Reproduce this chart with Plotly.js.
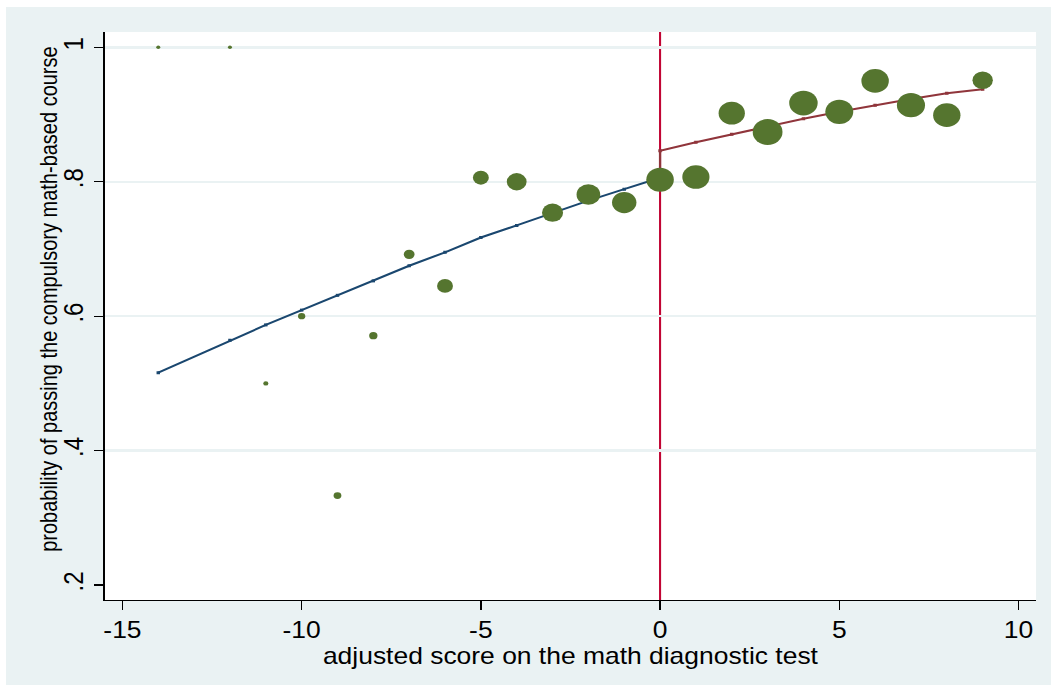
<!DOCTYPE html>
<html><head><meta charset="utf-8">
<script src="https://cdn.plot.ly/plotly-3.0.1.min.js"></script>
<style>
html,body{margin:0;padding:0;background:#fff;width:1051px;height:685px;overflow:hidden;}
#wrap{position:absolute;left:6px;top:7px;width:909px;height:678px;transform:scaleX(1.14961);transform-origin:0 0;}
#chart{width:909px;height:678px;}
</style></head><body>
<div id="wrap"><div id="chart"></div></div>
<script>
// binned data: adjusted diagnostic score, share passing, number of students
const scoreBins = [-14,-12,-11,-10,-9,-8,-7,-6,-5,-4,-3,-2,-1,0,1,2,3,4,5,6,7,8,9];
const passShare = [1,1,0.5,0.6,0.333,0.571,0.692,0.645,0.806,0.8,0.754,0.781,0.769,0.803,0.807,0.902,0.874,0.917,0.904,0.95,0.914,0.899,0.951];
const binCounts = [1,1,2,5,6,7,13,31,31,50,57,73,78,101,98,91,119,108,104,100,105,99,53];
// fitted values left / right of the cutoff
const leftFitX = [-14,-12,-11,-10,-9,-8,-7,-6,-5,-4,-3,-2,-1,0];
const leftFitY = [0.516,0.564,0.587,0.609,0.631,0.6525,0.675,0.695,0.717,0.735,0.754,0.772,0.789,0.806];
const rightFitX = [0,0,1,2,3,4,5,6,7,8,9];
const rightFitY = [0.806,0.846,0.8587,0.8706,0.882,0.8938,0.904,0.9138,0.923,0.9316,0.9375];
const cutoff = 0;
const xTicks = [-15,-10,-5,0,5,10];
const xTickText = ['-15','-10','-5','0','5','10'];
const yTicks = [0.2,0.4,0.6,0.8,1];
const yTickText = ['.2','.4','.6','.8','1'];
const yGrid = [0.4,0.6,0.8,1];

const markerSizes = binCounts.map(n => 1.235 + 2.265*Math.sqrt(n));

const traces = [
  {x:leftFitX, y:leftFitY, type:'scatter', mode:'lines+markers', hoverinfo:'skip',
   line:{color:'#1a476f', width:2}, marker:{symbol:'square', size:3, color:'#1a476f'}},
  {x:rightFitX, y:rightFitY, type:'scatter', mode:'lines+markers', hoverinfo:'skip',
   line:{color:'#90353b', width:2}, marker:{symbol:'square', size:3, color:'#90353b'}},
  {x:scoreBins, y:passShare, type:'scatter', mode:'markers',
   marker:{color:'rgb(85,117,47)', opacity:1, size:markerSizes, sizemode:'diameter', line:{width:0}}}
];

const font = 'Liberation Sans, Arial, Helvetica, sans-serif';
const layout = {
  width:909, height:678,
  margin:{l:86, r:13, t:25, b:85},
  paper_bgcolor:'#eaf2f3', plot_bgcolor:'#ffffff',
  showlegend:false,
  font:{family:font, color:'#000'},
  xaxis:{range:[-15.49,10.49], tickvals:xTicks, ticktext:xTickText, ticks:'outside', ticklen:9, tickwidth:1.3, tickcolor:'#000',
    showline:true, linecolor:'#000', linewidth:1.3, showgrid:false, zeroline:false,
    tickfont:{size:23, family:font}, automargin:false,
    title:{text:'adjusted score on the math diagnostic test', font:{size:23, family:font}, standoff:0}},
  yaxis:{range:[0.1777,1.0228], tickvals:yTicks, ticktext:yTickText, tickangle:-90,
    ticks:'outside', ticklen:8.5, tickwidth:1.3, tickcolor:'#000',
    showline:true, linecolor:'#000', linewidth:1.3, showgrid:false, zeroline:false,
    minor:{tickvals:yGrid, showgrid:true, gridcolor:'#eaf2f3', gridwidth:2.5, ticks:''},
    tickfont:{size:24, family:font}, automargin:false, ticklabelstandoff:0},
  shapes:[{type:'line', xref:'x', yref:'paper', x0:cutoff, x1:cutoff, y0:0, y1:1,
    line:{color:'#c10534', width:1.8}, layer:'below'}],
  annotations:[{text:'probability of passing the compulsory math-based course', xref:'paper', yref:'paper',
    x:-0.0595, y:0.5296, xanchor:'center', yanchor:'middle', textangle:-90, showarrow:false,
    font:{size:20, family:font, color:'#000'}}]
};
Plotly.newPlot('chart', traces, layout, {displayModeBar:false, staticPlot:true});
</script>
</body></html>
